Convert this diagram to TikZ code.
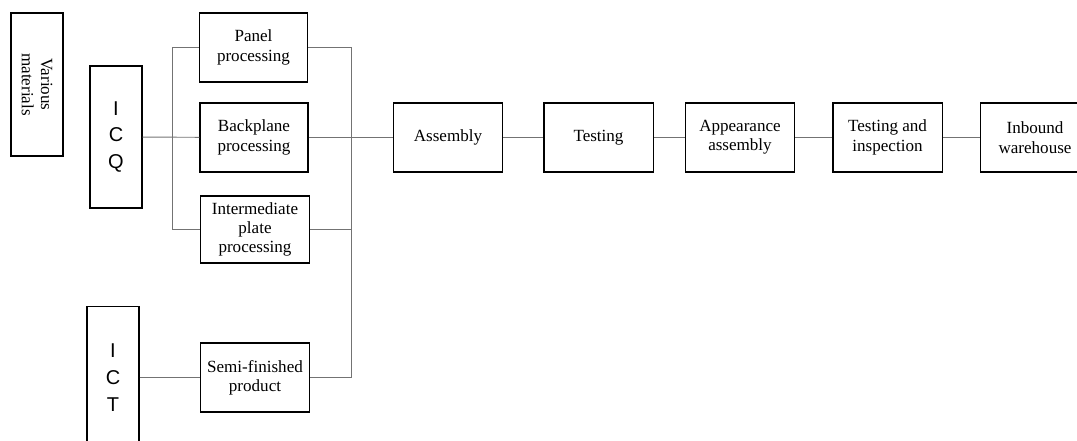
\documentclass[tikz,border=0pt]{standalone}
\usepackage{fontspec}
\setmainfont{Liberation Serif}
\newfontfamily\letterfont{Liberation Sans}
\begin{document}
\begin{tikzpicture}[x=0.75pt,y=-0.75pt,
    procbox/.style={draw, line width=1pt, align=center, inner sep=0pt,
        minimum width=82pt, minimum height=51.75pt,
        font=\fontsize{12.8}{14.5}\selectfont},
    letterbox/.style={draw, line width=1pt, align=center, inner sep=0pt,
        minimum width=39pt, minimum height=106.5pt,
        font=\letterfont\fontsize{15}{20}\selectfont},
    link/.style={draw=black!55, line width=0.7pt}]
    \useasboundingbox (0,0) rectangle (1077,441);

    % sources
    \node[procbox, rotate=-90, minimum width=107.25pt, minimum height=39pt]
        (materials) at (37,84.5) {Various\\materials};
    \node[letterbox] (icq) at (116,137) {I\\C\\Q};
    \node[letterbox] (ict) at (113,377.5) {I\\C\\T};

    % parallel processing
    \node[procbox, minimum width=81pt] (panel) at (253.5,47.5) {Panel\\processing};
    \node[procbox, minimum width=81pt] (backplane) at (254,137.5) {Backplane\\processing};
    \node[procbox, minimum height=50.25pt] (middle) at (255,229.5) {Intermediate\\plate\\processing};
    \node[procbox] (semi) at (255,377.5) {Semi-finished\\product};

    % main line
    \node[procbox] (assembly) at (448,137.5) {Assembly};
    \node[procbox] (testing) at (598.5,137.5) {Testing};
    \node[procbox] (appearance) at (740,137.5) {Appearance\\assembly};
    \node[procbox] (inspection) at (887.5,137.5) {Testing and\\inspection};
    \node[procbox] (warehouse) at (1035,137.5) {Inbound\\warehouse};

    \coordinate (lbus) at (172,0);
    \coordinate (rbus) at (351,0);

    \draw[link] (icq) -- (backplane);
    \draw[link] (panel.west) -| (lbus |- middle.west) -- (middle.west);
    \draw[link] (panel.east) -| (rbus |- semi.east) -- (semi.east);
    \draw[link] (backplane.east) -- (assembly.west);
    \draw[link] (middle.east) -- (rbus |- middle.east);
    \draw[link] (ict) -- (semi);

    \foreach \a/\b in {assembly/testing, testing/appearance,
        appearance/inspection, inspection/warehouse}
        \draw[link] (\a) -- (\b);
\end{tikzpicture}
\end{document}
